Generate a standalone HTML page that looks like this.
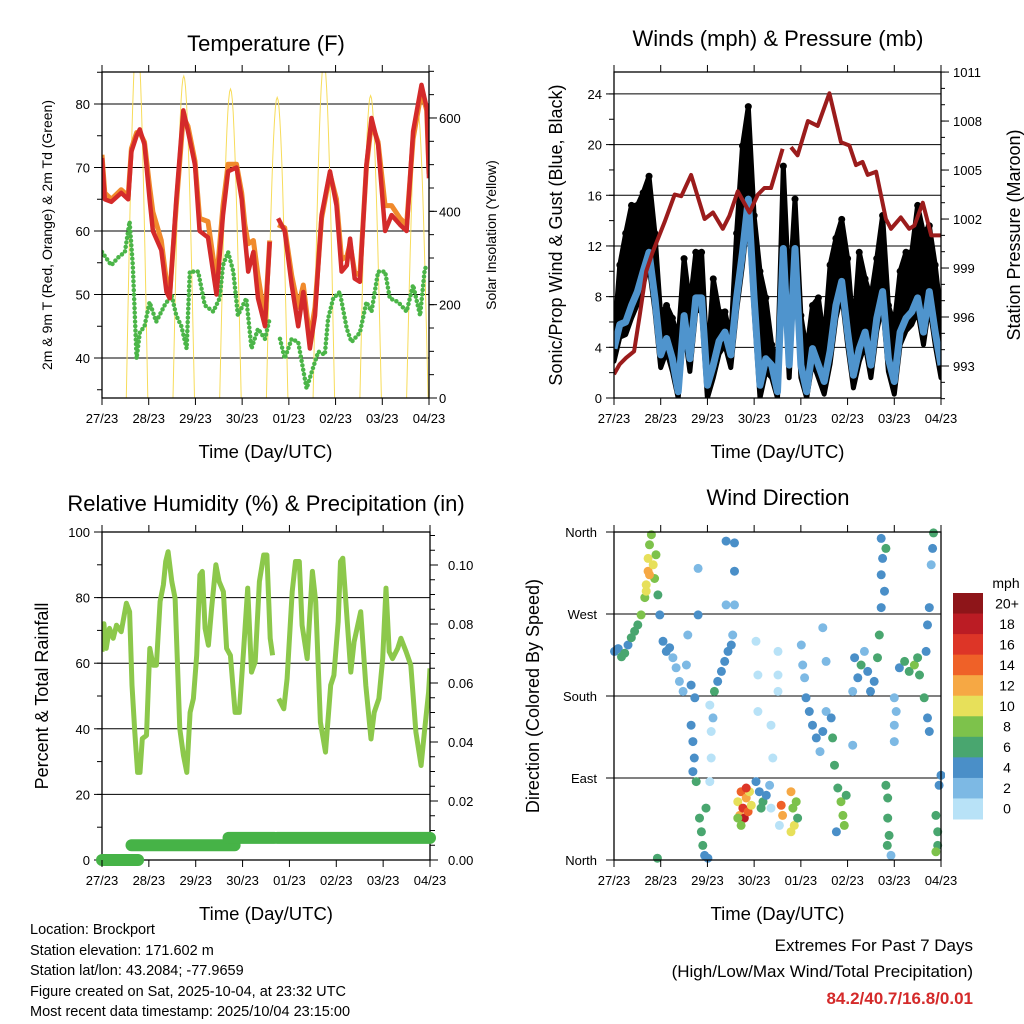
<!DOCTYPE html>
<html><head><meta charset="utf-8"><style>
html,body{margin:0;padding:0;background:#fff;}
svg{display:block;font-family:"Liberation Sans",Arial,sans-serif;}
</style></head><body>
<svg id="c" width="1024" height="1024" viewBox="0 0 1024 1024" xmlns="http://www.w3.org/2000/svg">
<defs>
<clipPath id="cp1"><rect x="102" y="72" width="327" height="326"/></clipPath>
<clipPath id="cp2"><rect x="614" y="72" width="327" height="326"/></clipPath>
<clipPath id="cp3"><rect x="102" y="532" width="328" height="328"/></clipPath>
<clipPath id="cp4"><rect x="610" y="528" width="335" height="336"/></clipPath>
</defs>
<g id="p1"></g>
<g id="p2"></g>
<g id="p3"></g>
<g id="p4"></g>
<g id="foot">
<text x="30" y="934" font-size="14.5">Location: Brockport</text>
<text x="30" y="955" font-size="14.5">Station elevation: 171.602 m</text>
<text x="30" y="975" font-size="14.5">Station lat/lon: 43.2084; -77.9659</text>
<text x="30" y="996" font-size="14.5">Figure created on Sat, 2025-10-04, at 23:32 UTC</text>
<text x="30" y="1016" font-size="14.5">Most recent data timestamp: 2025/10/04 23:15:00</text>
<text x="973" y="951" font-size="17" text-anchor="end">Extremes For Past 7 Days</text>
<text x="973" y="977" font-size="17" text-anchor="end">(High/Low/Max Wind/Total Precipitation)</text>
<text x="973" y="1004" font-size="17" font-weight="bold" fill="#d42a2a" text-anchor="end">84.2/40.7/16.8/0.01</text>
</g>
</svg>
<script>
// ---- data ----
const dayLabels = ["27/23","28/23","29/23","30/23","01/23","02/23","03/23","04/23"];
const tempTimes = [0,.06,.2,.41,.56,.63,.74,.81,.91,1.02,1.09,1.27,1.38,1.45,1.59,1.74,1.84,1.99,2.09,2.27,2.45,2.59,2.7,2.88,2.99,3.06,3.13,3.24,3.34,3.49,3.59,null,3.77,3.91,4.06,4.2,4.31,4.45,4.56,4.7,4.88,5.02,5.13,5.24,5.31,5.41,5.52,5.66,5.77,5.91,6.06,6.2,6.38,6.52,6.66,6.84,6.95,7];
const tempRed = [71.5,65,64.6,66,65,72.5,75,76,73.6,65,60,57,50.4,49.4,65,79,75.7,70.4,60,59,50,62.5,69.4,70,65,59,53.6,56.7,49.4,45,58.3,null,62,60,51.5,45,50.4,41.5,46.7,62.5,69.4,64,53.6,54.6,58.8,52.5,52,70.4,77.8,73.6,60,62.5,61,60,75.7,83,79.4,68.3];
const tempOrange = [72,66,65,66.5,65.5,73,75.5,75.5,74,67,63,58.5,52,50,64,78,76.5,71,62,61.5,52,64,70.5,70.5,66,61,58,58.5,53,46,58.5,null,61,60.5,53,48,51.5,43,48,62,69,65,55.5,56,58,53.5,53,70,77,74,64,64,62,61,74.5,82,79,69];
const dewTimes = [0,.2,.34,.49,.59,.66,.74,.81,.91,1.02,1.16,1.34,1.49,1.59,1.7,1.81,1.88,2.06,2.2,2.38,2.52,2.59,2.7,2.81,2.91,3.09,3.2,3.34,3.49,3.59,null,3.81,3.91,4.06,4.2,4.38,4.49,4.63,4.77,4.84,4.95,5.09,5.24,5.34,5.52,5.66,5.77,5.91,6.06,6.16,6.34,6.52,6.66,6.81,6.91,7];
const dewVals = [56.7,54.6,55.8,56.7,61.5,54.6,39.9,44,45,48.8,45.7,48.3,49.9,46.7,45,41.5,53.6,53.6,48.3,47.3,49.4,54.6,56.7,53.6,46.7,49.4,41.5,44.6,43,46.2,null,43,39.9,43,42.5,35.2,37.8,41,40.5,46.2,49.4,50.4,44.6,42.5,44,48.8,47.3,53.6,53.6,49.4,48.8,47.3,51.5,46.7,54.1,54.6];
const solarPeaks = [780,690,662,644,720,648,623];
const tempTicks = [40,50,60,70,80];
const solarTicks = [0,200,400,600];

const windStep = 0.125;
const windVals = [3.9,5.8,6,7.3,8.4,10,11.5,7.9,3.4,4.7,3.1,0.5,6.5,3.1,7.9,7.9,1,2.6,4.5,5.2,3.4,7.9,11.5,15.7,7.9,1,3.1,2.6,0.5,11.8,2.6,11.8,2.6,0.5,3.9,2.6,1.3,3.7,7.3,9.2,5.2,1.8,3.9,5.2,2.6,6.3,8.4,3.1,1.3,5.2,6.3,6.8,7.9,5.2,8.4,5.2,2.6];
const gustVals = [4.5,10.5,13,15.2,15.2,16.2,17.5,13,6.5,7.3,6.3,4.7,11,7.3,11.5,11.5,2.6,9.4,6.8,6.8,4.7,13,19.9,23,14.4,10,7.9,4.2,2.6,18.3,7.9,15.7,6.5,3.7,7.3,7.9,4.5,10.5,12.6,14.1,11,5.2,11.5,9.4,7.9,11,14.4,7.3,5.8,10,11.5,11.5,15.2,13,13.6,10.5,6.5];
const presTimes = [0,.12,.26,.43,.55,.69,.83,1.08,1.3,1.44,1.65,1.8,1.94,2.12,2.33,2.47,2.65,2.9,3.08,3.22,3.36,3.61,null,3.79,3.93,4.15,4.36,4.61,4.86,5.04,5.18,5.32,5.43,5.61,5.82,5.93,6.14,6.32,6.43,6.61,6.79,7];
const presVals = [992.5,993.1,993.5,993.9,996.1,998.8,1000,1001.8,1003.5,1003.4,1004.7,1003.3,1002,1002.4,1001.4,1002.2,1003.7,1002.4,1003.5,1003.9,1003.9,1006.3,null,1006.4,1005.9,1008,1007.7,1009.7,1006.7,1006.5,1005.3,1005.5,1004.7,1004.9,1002,1001.4,1002.1,1001.4,1001.6,1003,1001,1001];
const windTicks = [0,4,8,12,16,20,24];
const presTicks = [993,996,999,1002,1005,1008,1011];

const rhTimes = [0,.04,.09,.16,.24,.31,.41,.52,.59,.64,.7,.76,.81,.86,.95,1.02,1.09,1.16,1.24,1.31,1.36,1.41,1.49,1.56,1.66,1.74,1.81,1.88,1.95,2.02,2.09,2.14,2.2,2.27,2.34,2.43,2.5,2.59,2.66,2.74,2.84,2.93,3.02,3.11,3.19,3.27,3.36,3.45,3.52,3.59,3.64,null,3.77,3.88,3.95,4.06,4.13,4.21,4.27,4.38,4.49,4.56,4.66,4.77,4.88,4.95,5.04,5.09,5.14,5.24,5.31,5.38,5.52,5.63,5.74,5.81,5.91,5.99,6.06,6.13,6.2,6.31,6.38,6.49,6.59,6.7,6.81,6.88,6.97,7];
const rhVals = [63.5,72,64.5,70.6,67.6,71.6,69.6,78.3,75.7,53.3,39,26.7,26.7,37,38,64.5,59.4,59.4,78.8,83.9,91,94,84.9,79.8,40,31.8,26.7,45,49.2,62.4,86.9,88,70.6,65.5,76.7,90,84.9,81.8,64.5,62.4,45,45,63.5,82.9,57.3,60.4,84.9,93,93,67.6,62.4,null,49.2,46.1,55.3,81.8,91,91,71.6,61.4,88,78.8,42,32.9,53.3,56.3,72.7,91,92,71.6,57.3,66.5,75.7,53.3,36.9,45,49.2,61.4,82.9,63.5,61.4,64.5,67.6,63.5,59.4,39,28.8,39,51.2,58.4];
const precipStart = [0,0.63,2.70,3.74];
const precipEnd = [0.77,2.83,3.68,7.0];
const precipVals = [0,0.005,0.0075,0.0075];
const rhTicks = [0,20,40,60,80,100];
const precipTicks = [0,0.02,0.04,0.06,0.08,0.10];

const dirTimes = [.01,.09,.16,.23,.30,.37,.44,.51,.58,.66,.69,.73,.73,.76,.80,.84,.87,.69,.76,.90,.94,.98,1.05,1.12,1.19,1.26,1.33,1.40,1.48,1.55,1.58,1.65,1.73,1.65,1.69,1.72,1.69,1.76,1.83,1.87,1.90,1.94,1.97,2.01,2.05,2.08,2.08,2.05,2.12,2.15,2.22,2.30,2.37,2.44,2.51,2.54,2.40,2.58,2.58,2.40,1.80,1.80,2.58,2.65,2.69,2.72,2.76,2.79,2.83,2.87,2.90,2.72,2.83,2.65,2.94,3.04,3.11,3.19,3.26,3.33,3.15,3.04,3.08,3.08,3.51,3.51,3.51,3.36,3.40,3.54,3.36,3.58,3.61,3.79,3.83,3.86,3.90,3.93,3.79,4.01,4.04,4.08,4.11,4.18,4.25,4.33,4.41,4.47,4.54,4.47,4.54,4.65,4.68,4.72,4.79,4.86,4.90,4.93,4.76,4.97,5.11,5.11,5.15,5.22,5.29,5.36,5.43,5.49,5.57,5.64,5.68,5.72,5.72,5.75,5.72,5.79,5.82,5.82,5.86,5.86,5.89,5.93,5.85,6.00,6.00,6.00,6.04,6.11,6.22,6.32,6.43,6.54,6.50,6.64,6.68,6.71,6.75,6.79,6.82,6.84,6.71,6.75,6.89,6.93,6.93,6.89,7.0,6.96,0.93];
const dirDeg = [229,232,223,227,236,244,251,258,269,288,302,317,331,346,357,324,309,295,313,335,291,269,240,229,233,222,211,196,185,214,247,192,178,148,130,112,97,86,46,31,16,5,57,2,170,141,112,86,156,185,196,207,218,229,236,247,350,317,280,280,320,269,348,64,49,75,57,46,68,53,75,38,79,46,60,86,75,64,71,82,57,240,203,163,229,203,185,148,112,38,57,60,49,75,57,38,64,46,31,236,214,200,178,163,148,134,119,141,163,255,218,156,134,104,79,64,49,38,31,71,185,126,222,200,214,229,207,185,196,222,247,277,313,331,353,295,342,82,68,46,27,5,16,178,148,130,163,211,218,207,214,203,222,178,229,258,277,324,342,359,156,141,49,31,16,9,93,82,2];
const dirSpeed = [4,5,6,6,5,6,7,7,8,9,10,12,10,8,8,11,9,10,13,8,7,4,4,4,4,3,3,2,3,2,2,4,4,4,4,4,5,6,6,7,6,4,7,4,1,1,1,1,2,6,5,4,4,4,4,3,4,4,2,3,3,4,4,10,12,14,16,18,12,15,10,9,17,8,11,4,5,6,5,3,6,0,0,1,0,0,1,1,1,0,1,14,13,12,9,10,8,7,10,2,2,3,4,4,4,4,3,4,3,2,2,5,6,7,7,8,8,8,4,7,3,2,4,4,6,3,4,5,4,6,6,5,4,5,4,5,6,7,6,7,6,2,6,2,2,2,2,5,6,6,8,7,6,6,4,4,4,3,4,6,4,4,7,6,6,8,4,4,6];
const speedLabels = ["20+","18","16","14","12","10","8","6","4","2","0"];
const speedColors = ["#8e1519","#bb1c24","#dd3527","#ef6128","#f6a844","#e7e05a","#7dc24b","#49a66f","#4a8fc8","#7db9e4","#b8e2f7"];
const dirTicks = ["North","East","South","West","North"];

// ---- helpers ----
const NS="http://www.w3.org/2000/svg";
function mk(parent,tag,attrs){const e=document.createElementNS(NS,tag);for(const k in attrs)e.setAttribute(k,attrs[k]);parent.appendChild(e);return e;}
function txt(parent,x,y,s,size,anchor,extra){const t=mk(parent,"text",Object.assign({x:x,y:y,"font-size":size,"text-anchor":anchor||"middle"},extra||{}));t.textContent=s;return t;}
function pathFrom(ts,vs,fx,fy){let d="",pen=false;for(let i=0;i<ts.length;i++){if(ts[i]===null||vs[i]===null){pen=false;continue;}d+=(pen?"L":"M")+fx(ts[i]).toFixed(1)+","+fy(vs[i]).toFixed(1);pen=true;}return d;}

function frame(g,x0,y0,x1,y1){
  for(let i=0;i<8;i++){const x=x0+i*(x1-x0)/7;
    let t=mk(g,"line",{x1:x,y1:y1,x2:x,y2:y1+7,stroke:"#000","stroke-width":1});
    
    
    t=mk(g,"line",{x1:x,y1:y0,x2:x,y2:y0-7,stroke:"#000","stroke-width":1});
    
    
    const l=txt(g,x,y1+25,dayLabels[i],13);
    
    
  }
  const xt=txt(g,(x0+x1)/2,y1+60,"Time (Day/UTC)",18.5);
  
  
}
function border(g,x0,y0,x1,y1){const r=mk(g,"rect",{x:x0,y:y0,width:x1-x0,height:y1-y0,fill:"none",stroke:"#000","stroke-width":1.3});
  
  }
function hgrid(g,x0,x1,y){const l=mk(g,"line",{x1:x0,y1:y,x2:x1,y2:y,stroke:"#000","stroke-width":1});
  
  }
function yticks(g,x,ys,side,len){for(const y of ys){const t=mk(g,"line",{x1:x,y1:y,x2:x+side*len,y2:y,stroke:"#000","stroke-width":1});
  
  }}
function vtitle(g,x,y,s,size){const t=txt(g,x,y,s,size,"middle",{transform:"rotate(-90 "+x+" "+y+")"});
  
  return t;}

// ---- Panel 1: temperature ----
(function(){
  const g=document.getElementById("p1");
  const X0=102,X1=429,Y0=72,Y1=398;
  const fx=d=>X0+d*(X1-X0)/7, fy=T=>358-(T-40)*6.35, fs=s=>398-s*0.4667;
  const tt=txt(g,266,51,"Temperature (F)",22);  
  for(const v of tempTicks) hgrid(g,X0,X1,fy(v));
  const yl=[];for(let v=35;v<=85;v+=5)yl.push(fy(v));
  yticks(g,X0,yl,-1,5); yticks(g,X0,tempTicks.map(fy),-1,8);
  for(const v of tempTicks){const l=txt(g,X0-12,fy(v)+5,String(v),13,"end");  }
  const yr=[];for(let v=0;v<=700;v+=50)yr.push(fs(v));
  yticks(g,X1,yr,1,5); yticks(g,X1,solarTicks.map(fs),1,8);
  for(const v of solarTicks){const l=txt(g,X1+10,fs(v)+5,String(v),13,"start");  }
  const c=mk(g,"g",{"clip-path":"url(#cp1)"});
  let d="";
  for(let k=0;k<solarPeaks.length;k++){const noon=k+0.75,hw=0.23;for(let j=0;j<=24;j++){const t=noon-hw+j*(2*hw/24);const s=solarPeaks[k]*Math.sin(Math.PI*j/24);d+=(j?"L":"M")+fx(t).toFixed(1)+","+fs(s).toFixed(1);}}
  let p=mk(c,"path",{d:d,fill:"none",stroke:"#f7dc5a","stroke-width":1});  
  p=mk(c,"path",{d:pathFrom(dewTimes,dewVals,fx,fy),fill:"none",stroke:"#4bb548","stroke-width":4.5,"stroke-dasharray":"0 4.5","stroke-linecap":"round"});  
  p=mk(c,"path",{d:pathFrom(tempTimes,tempOrange,fx,fy),fill:"none",stroke:"#f08a2c","stroke-width":5,"stroke-linejoin":"round"});  
  p=mk(c,"path",{d:pathFrom(tempTimes,tempRed,fx,fy),fill:"none",stroke:"#d42a2a","stroke-width":4.5,"stroke-linejoin":"round"});  
  border(g,X0,Y0,X1,Y1); frame(g,X0,Y0,X1,Y1);
  vtitle(g,52,235,"2m & 9m T (Red, Orange) & 2m Td (Green)",14);
  vtitle(g,496,235,"Solar Insolation (Yellow)",14);
})();

// ---- Panel 2: winds ----
(function(){
  const g=document.getElementById("p2");
  const X0=614,X1=941,Y0=72,Y1=398;
  const fx=d=>X0+d*(X1-X0)/7, fy=m=>398-m*12.67, fp=P=>366-(P-993)*16.33;
  const tt=txt(g,778,46,"Winds (mph) & Pressure (mb)",22);  
  for(const v of windTicks) if(v>0) hgrid(g,X0,X1,fy(v));
  const yl=[];for(let v=0;v<=25;v+=2)yl.push(fy(v));
  yticks(g,X0,yl,-1,5); yticks(g,X0,windTicks.map(fy),-1,8);
  for(const v of windTicks){const l=txt(g,X0-12,fy(v)+5,String(v),13,"end");  }
  const yr=[];for(let v=991;v<=1011;v++)yr.push(fp(v));
  yticks(g,X1,yr,1,4); yticks(g,X1,presTicks.map(fp),1,8);
  for(const v of presTicks){const l=txt(g,X1+12,fp(v)+5,String(v),13,"start");  }
  const c=mk(g,"g",{"clip-path":"url(#cp2)"});
  let d="";
  for(let i=0;i<gustVals.length;i++)d+=(i?"L":"M")+fx(i*windStep).toFixed(1)+","+fy(gustVals[i]).toFixed(1);
  for(let i=windVals.length-1;i>=0;i--)d+="L"+fx(i*windStep).toFixed(1)+","+fy(Math.max(0,windVals[i]-1)).toFixed(1);
  let p=mk(c,"path",{d:d+"Z",fill:"#000",stroke:"#000","stroke-width":5,"stroke-linejoin":"round"});  
  for(let i=0;i<gustVals.length;i++){const ci=mk(c,"circle",{cx:fx(i*windStep),cy:fy(gustVals[i]),r:3.5,fill:"#000"});
    
    }
  d="";for(let i=0;i<windVals.length;i++)d+=(i?"L":"M")+fx(i*windStep).toFixed(1)+","+fy(windVals[i]).toFixed(1);
  p=mk(c,"path",{d:d,fill:"none",stroke:"#4f94cd","stroke-width":7,"stroke-linejoin":"round"});  
  p=mk(c,"path",{d:pathFrom(presTimes,presVals,fx,fp),fill:"none",stroke:"#9b1c1c","stroke-width":4,"stroke-linejoin":"round"});  
  border(g,X0,Y0,X1,Y1); frame(g,X0,Y0,X1,Y1);
  vtitle(g,562,235,"Sonic/Prop Wind & Gust (Blue, Black)",18);
  vtitle(g,1020,235,"Station Pressure (Maroon)",18);
})();

// ---- Panel 3: RH ----
(function(){
  const g=document.getElementById("p3");
  const X0=102,X1=430,Y0=532,Y1=860;
  const fx=d=>X0+d*(X1-X0)/7, fy=r=>860-r*3.28, fp=v=>860-v*2950;
  const tt=txt(g,266,511,"Relative Humidity (%) & Precipitation (in)",22);  
  for(const v of rhTicks) if(v>0&&v<100) hgrid(g,X0,X1,fy(v));
  const yl=[];for(let v=0;v<=100;v+=10)yl.push(fy(v));
  yticks(g,X0,yl,-1,5); yticks(g,X0,rhTicks.map(fy),-1,8);
  for(const v of rhTicks){const l=txt(g,X0-12,fy(v)+5,String(v),13,"end");  }
  const yr=[];for(let v=0;v<=0.111;v+=0.005)yr.push(fp(v));
  yticks(g,X1,yr,1,5); yticks(g,X1,precipTicks.map(fp),1,8);
  for(const v of precipTicks){const l=txt(g,X1+18,fp(v)+5,v.toFixed(2),13,"start");  }
  const c=mk(g,"g",{"clip-path":"url(#cp3)"});
  let p=mk(c,"path",{d:pathFrom(rhTimes,rhVals,fx,fy),fill:"none",stroke:"#8cc84b","stroke-width":5,"stroke-linejoin":"round"});  
  border(g,X0,Y0,X1,Y1);
  for(let i=0;i<precipVals.length;i++){const l=mk(g,"line",{x1:fx(precipStart[i]),y1:fp(precipVals[i]),x2:fx(precipEnd[i]),y2:fp(precipVals[i]),stroke:"#46b347","stroke-width":12,"stroke-linecap":"round"});
    
    }
  frame(g,X0,Y0,X1,Y1);
  vtitle(g,48,696,"Percent & Total Rainfall",18);
})();

// ---- Panel 4: wind direction ----
(function(){
  const g=document.getElementById("p4");
  const X0=614,X1=941,Y0=532,Y1=860;
  const fx=d=>X0+d*(X1-X0)/7, fy=a=>860-a*(328/360);
  const tt=txt(g,778,505,"Wind Direction",22);  
  for(let i=1;i<4;i++) hgrid(g,X0,X1,fy(i*90));
  yticks(g,X0,[0,1,2,3,4].map(i=>fy(i*90)),-1,8);
  for(let i=0;i<5;i++){const l=txt(g,X0-17,fy(i*90)+5,dirTicks[i],13,"end");  }
  const c=mk(g,"g",{"clip-path":"url(#cp4)"});
  for(let i=0;i<dirTimes.length;i++){
    const ci=Math.max(0,10-Math.min(10,Math.floor(dirSpeed[i]/2)));
    const pt=mk(c,"circle",{cx:fx(dirTimes[i]).toFixed(1),cy:fy(dirDeg[i]).toFixed(1),r:4.5,fill:speedColors[ci]});
    
    
  }
  border(g,X0,Y0,X1,Y1); frame(g,X0,Y0,X1,Y1);
  vtitle(g,539,696,"Direction (Colored By Speed)",18);
  const bh=(819-593)/11;
  for(let i=0;i<11;i++){
    const r=mk(g,"rect",{x:953,y:593+i*bh,width:30,height:bh+0.5,fill:speedColors[i]});
    
    
    const l=txt(g,1007,593+i*bh+bh/2+5,speedLabels[i],14);
    
    
  }
  const u=txt(g,1006,588,"mph",14);  
})();
</script>
</body></html>
